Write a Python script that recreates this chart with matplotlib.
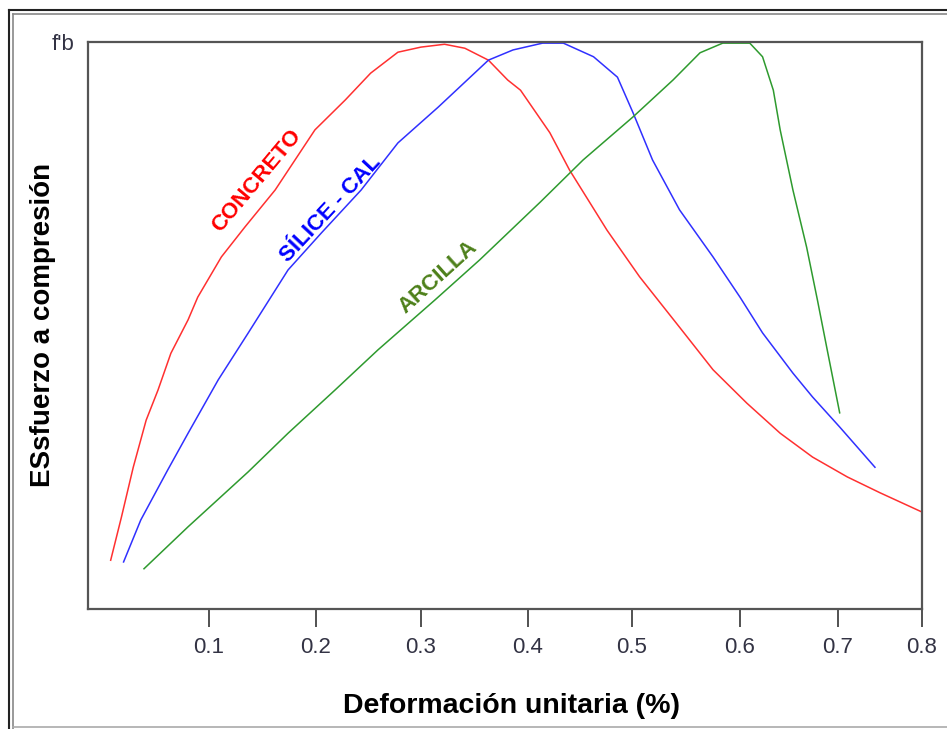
import matplotlib
matplotlib.use("Agg")
import numpy as np
import matplotlib.pyplot as plt
from matplotlib.lines import Line2D

plt.rcParams['font.family'] = ['Liberation Sans', 'DejaVu Sans']

# strain (%) and stress as a fraction of f'b
concreto_x = [0.009, 0.019, 0.030, 0.042, 0.053, 0.065, 0.081, 0.090, 0.112, 0.134,
              0.162, 0.199, 0.228, 0.252, 0.278, 0.300, 0.322, 0.341, 0.363, 0.381,
              0.393, 0.421, 0.440, 0.476, 0.507, 0.544, 0.575, 0.607, 0.641, 0.674,
              0.711, 0.750, 0.800]
concreto_y = [0.086, 0.162, 0.250, 0.333, 0.386, 0.451, 0.510, 0.550, 0.621, 0.674,
              0.739, 0.845, 0.898, 0.945, 0.982, 0.991, 0.996, 0.989, 0.968, 0.933,
              0.915, 0.840, 0.774, 0.668, 0.586, 0.497, 0.422, 0.363, 0.310, 0.268,
              0.233, 0.205, 0.171]

silice_x = [0.021, 0.037, 0.062, 0.081, 0.109, 0.137, 0.174, 0.205, 0.243, 0.278,
            0.316, 0.363, 0.386, 0.414, 0.434, 0.463, 0.486, 0.501, 0.519, 0.544,
            0.575, 0.600, 0.623, 0.654, 0.674, 0.702, 0.744]
silice_y = [0.083, 0.157, 0.245, 0.310, 0.404, 0.487, 0.598, 0.663, 0.739, 0.822,
            0.885, 0.968, 0.986, 0.998, 0.998, 0.974, 0.938, 0.875, 0.792, 0.704,
            0.621, 0.550, 0.487, 0.416, 0.374, 0.321, 0.250]

arcilla_x = [0.040, 0.081, 0.137, 0.174, 0.218, 0.259, 0.313, 0.355, 0.412, 0.453,
             0.501, 0.538, 0.563, 0.584, 0.610, 0.623, 0.634, 0.641, 0.654, 0.668,
             0.679, 0.689, 0.702]
arcilla_y = [0.071, 0.145, 0.242, 0.310, 0.386, 0.457, 0.545, 0.616, 0.718, 0.792,
             0.868, 0.933, 0.981, 0.998, 0.998, 0.974, 0.915, 0.845, 0.739, 0.638,
             0.545, 0.457, 0.346]

xticks = [0.1, 0.2, 0.3, 0.4, 0.5, 0.6, 0.7, 0.8]
xticklabels = ['0.1', '0.2', '0.3', '0.4', '0.5', '0.6', '0.7', '0.8']

# the source axis is not evenly spaced: where each tick sits on the page (px)
knot_vals = [-0.1, 0.0, 0.1, 0.2, 0.3, 0.4, 0.5, 0.6, 0.7, 0.8, 0.9]
knot_px = [-6.5, 101.0, 208.5, 316.0, 421.0, 528.0, 632.0, 740.0, 838.0, 922.0, 1006.0]


def fwd(x):
    return np.interp(x, knot_vals, knot_px)


def inv(p):
    return np.interp(p, knot_px, knot_vals)


fig = plt.figure(figsize=(9.47, 7.29), dpi=100)
ax = fig.add_axes([88 / 947, 1 - 609 / 729, (922 - 88) / 947, (609 - 42) / 729])
ax.set_xscale('function', functions=(fwd, inv))

ax.plot(concreto_x, concreto_y, color='#ff3030', lw=1.1)
ax.plot(silice_x, silice_y, color='#3030ff', lw=1.1)
ax.plot(arcilla_x, arcilla_y, color='#2e9a2e', lw=1.1)

# curve names written along the rising branches
ax.text(0.145, 0.755, 'CONCRETO', color='red', fontsize=16, fontweight='bold',
        rotation=50, ha='center', va='center', rotation_mode='anchor')
ax.text(0.214, 0.705, 'SÍLICE - CAL', color='blue', fontsize=16, fontweight='bold',
        rotation=47, ha='center', va='center', rotation_mode='anchor')
ax.text(0.316, 0.586, 'ARCILLA', color='#4d801a', fontsize=16, fontweight='bold',
        rotation=42, ha='center', va='center', rotation_mode='anchor')

ax.set_xlim(inv(88.0), 0.8)
ax.set_ylim(0, 1.0)
ax.set_xticks(xticks)
ax.set_xticklabels(xticklabels)
ax.xaxis.set_minor_locator(matplotlib.ticker.NullLocator())
ax.set_yticks([1.0])
ax.set_yticklabels(["f'b"])
ax.tick_params(axis='x', length=13, width=1.2, color='#333333', labelsize=16,
               labelcolor='#333344', pad=7)
ax.tick_params(axis='y', length=0, labelsize=16, labelcolor='#333344', pad=10)
for sp in ax.spines.values():
    sp.set_color('#555555')
    sp.set_linewidth(1.6)

fig.text(511 / 947, 1 - 706 / 729, 'Deformación unitaria (%)', fontsize=20.5,
         fontweight='bold', ha='center', va='center')
fig.text(43 / 947, 1 - 325 / 729, 'ESsfuerzo a compresión', fontsize=20,
         fontweight='bold', ha='center', va='center', rotation=90)

# screenshot frame around the picture
W, H = 947, 729
for x0, y0, x1, y1, c, w in [(9, 9.5, 947, 9.5, '#222222', 1.5),
                             (13, 13.5, 947, 13.5, '#888888', 1.2),
                             (9, 9.5, 9, 729, '#222222', 1.5),
                             (13, 13.5, 13, 729, '#888888', 1.2),
                             (13, 727, 947, 727, '#aaaaaa', 1.2)]:
    fig.add_artist(Line2D([x0 / W, x1 / W], [1 - y0 / H, 1 - y1 / H],
                          color=c, lw=w, transform=fig.transFigure))

fig.savefig('out.png', dpi=100)
